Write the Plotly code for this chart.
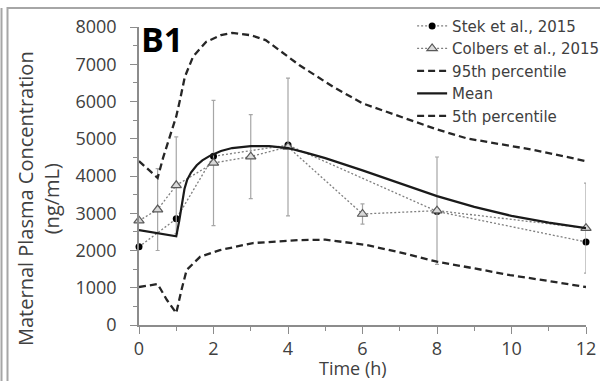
import plotly.graph_objects as go

# ---- data ----
stek_t = [0, 1, 2, 4, 8, 12]
stek_c = [2100, 2850, 4530, 4830, 3050, 2230]

colbers_t = [0, 0.5, 1, 2, 3, 4, 6, 8, 12]
colbers_c = [2800, 3100, 3750, 4350, 4520, 4780, 2980, 3070, 2600]
colbers_err = [0, 1100, 1300, 1680, 1130, 1850, 270, 1440, 1210]

p95_t = [0, 0.5, 0.65, 0.83, 1.0, 1.1, 1.23, 1.45, 1.8, 2.2, 2.5, 3.0, 3.4, 4.3, 5.2, 6, 7, 8, 8.8, 10.6, 12]
p95_c = [4400, 3950, 4500, 5050, 5600, 6040, 6660, 7200, 7600, 7780, 7840, 7780, 7650, 6980, 6400, 5950, 5590, 5250, 5010, 4700, 4400]

mean_t = [0, 1, 1.08, 1.15, 1.22, 1.29, 1.4, 1.55, 1.7, 1.9, 2.2, 2.5, 3.0, 3.5, 4.0, 4.5, 5, 6, 7, 8, 9, 10, 11, 12]
mean_c = [2550, 2380, 2800, 3270, 3650, 3890, 4100, 4290, 4420, 4540, 4670, 4750, 4800, 4800, 4750, 4620, 4480, 4150, 3800, 3460, 3170, 2930, 2750, 2600]

p5_t = [0, 0.3, 0.5, 0.75, 1.0, 1.14, 1.28, 1.64, 2.17, 3.06, 4.3, 5, 6.1, 7, 8, 9, 9.96, 11, 12]
p5_c = [1020, 1080, 1100, 670, 320, 940, 1480, 1830, 2010, 2200, 2280, 2290, 2150, 1950, 1700, 1520, 1340, 1180, 1020]

x_ticks = [0, 2, 4, 6, 8, 10, 12]
y_ticks = [0, 1000, 2000, 3000, 4000, 5000, 6000, 7000, 8000]

FONT = "Open Sans"
TXT = "#404040"

fig = go.Figure()

fig.add_trace(go.Scatter(
    x=stek_t, y=stek_c, name="Stek et al., 2015", mode="lines+markers",
    line=dict(color="#7f7f7f", width=1.3, dash="2px,2px"),
    marker=dict(symbol="circle", size=7, color="black"),
    cliponaxis=False))

fig.add_trace(go.Scatter(
    x=colbers_t, y=colbers_c, name="Colbers et al., 2015", mode="lines+markers",
    line=dict(color="#7f7f7f", width=1.3, dash="2px,2px"),
    marker=dict(symbol="triangle-up", size=9, color="#d9d9d9", line=dict(width=1.2, color="#595959")),
    error_y=dict(type="data", array=colbers_err, visible=True, color="#a6a6a6",
                 thickness=1.2, width=2),
    cliponaxis=False))

fig.add_trace(go.Scatter(
    x=p95_t, y=p95_c, name="95th percentile", mode="lines",
    line=dict(color="#262626", width=2.3, dash="7px,4px"), cliponaxis=False))

fig.add_trace(go.Scatter(
    x=mean_t, y=mean_c, name="Mean", mode="lines",
    line=dict(color="#1a1a1a", width=2.2), cliponaxis=False))

fig.add_trace(go.Scatter(
    x=p5_t, y=p5_c, name="5th percentile", mode="lines",
    line=dict(color="#262626", width=2.3, dash="7px,4px"), cliponaxis=False))

fig.update_layout(
    width=600, height=381,
    margin=dict(l=139, r=14, t=27, b=56, autoexpand=False),
    paper_bgcolor="white", plot_bgcolor="white",
    font=dict(family=FONT, color=TXT),
    showlegend=True,
    legend=dict(x=0.611, y=1.058, xanchor="left", yanchor="top",
                bgcolor="rgba(0,0,0,0)", font=dict(size=15, color=TXT, family="DejaVu Sans"),
                itemwidth=30, tracegroupgap=0),
    xaxis=dict(range=[0, 12], tickvals=x_ticks, ticktext=[str(v) for v in x_ticks],
               showgrid=False, zeroline=False, showline=True, linecolor="#8c8c8c", linewidth=1.5,
               ticks="outside", ticklen=7, tickcolor="#8c8c8c", tickwidth=1.2,
               tickfont=dict(size=18, color=TXT, family=FONT),
               automargin=False,
               minor=dict(dtick=1, tick0=0, ticks="outside", ticklen=4, tickcolor="#8c8c8c", tickwidth=1.2)),
    yaxis=dict(range=[0, 8000], tickvals=y_ticks, ticktext=[str(v) for v in y_ticks],
               showgrid=False, zeroline=False, showline=True, linecolor="#8c8c8c", linewidth=1.5,
               ticks="outside", ticklen=7, tickcolor="#8c8c8c", tickwidth=1.2,
               ticklabelstandoff=10, automargin=False,
               tickfont=dict(size=18, color=TXT, family=FONT),
               minor=dict(dtick=500, tick0=0, ticks="outside", ticklen=4, tickcolor="#8c8c8c", tickwidth=1.2)),
    annotations=[
        dict(text="<b>B1</b>", x=0.0, y=1.045, xref="paper", yref="paper",
             xanchor="left", yanchor="top", showarrow=False,
             font=dict(size=34, color="black", family=FONT)),
        dict(text="Time (h)", x=(353 - 139) / 447, y=-(368 - 325) / 298, xref="paper", yref="paper",
             xanchor="center", yanchor="middle", showarrow=False,
             font=dict(size=18, color=TXT, family=FONT)),
        dict(text="Maternal Plasma Concentration<br>(ng/mL)", textangle=-90,
             x=(38 - 139) / 447, y=(325 - 199) / 298, xref="paper", yref="paper",
             xanchor="center", yanchor="middle", showarrow=False,
             font=dict(size=20, color=TXT, family=FONT)),
    ],
    shapes=[
        dict(type="line", xref="paper", yref="paper",
             x0=-137.5 / 447, x1=-137.5 / 447, y0=-56 / 298, y1=(325 - 8) / 298,
             line=dict(color="#a6a6a6", width=2)),
        dict(type="line", xref="paper", yref="paper",
             x0=-131.5 / 447, x1=-131.5 / 447, y0=-56 / 298, y1=(325 - 7) / 298,
             line=dict(color="#a6a6a6", width=2)),
        dict(type="line", xref="paper", yref="paper",
             x0=-132 / 447, x1=461 / 447, y0=(325 - 8) / 298, y1=(325 - 8) / 298,
             line=dict(color="#a6a6a6", width=2)),
    ],
)

fig.write_html("out.html")
